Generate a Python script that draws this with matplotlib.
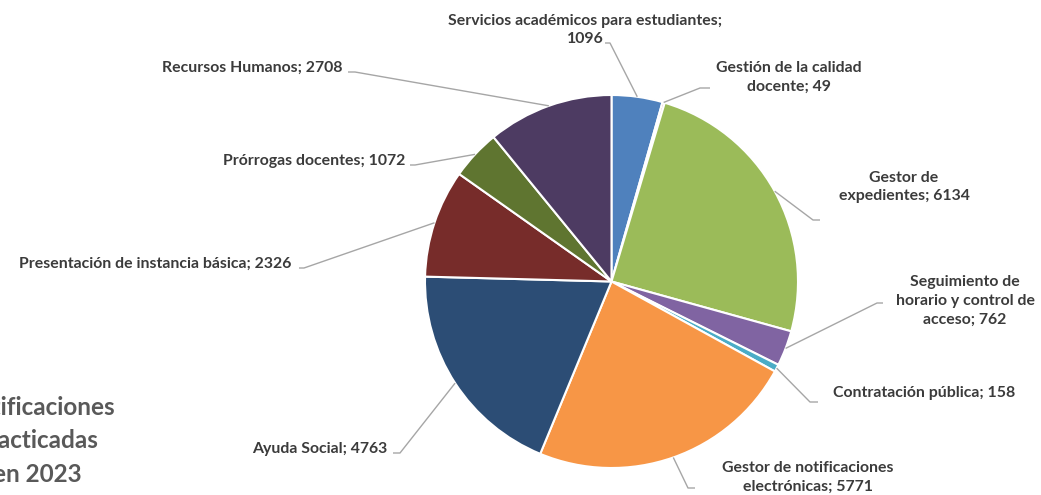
import numpy as np
import matplotlib
matplotlib.use("Agg")
import matplotlib.pyplot as plt

# data
names = ["Servicios académicos para estudiantes;\n1096",
         "Gestión de la calidad\ndocente; 49",
         "Gestor de\nexpedientes; 6134",
         "Seguimiento de\nhorario y control de\nacceso; 762",
         "Contratación pública; 158",
         "Gestor de notificaciones\nelectrónicas; 5771",
         "Ayuda Social; 4763",
         "Presentación de instancia básica; 2326",
         "Prórrogas docentes; 1072",
         "Recursos Humanos; 2708"]
values = [1096, 49, 6134, 762, 158, 5771, 4763, 2326, 1072, 2708]
colors = ["#4F81BD", "#C0504D", "#9BBB59", "#8064A2", "#4BACC6",
          "#F79646", "#2C4D75", "#772C2A", "#5F7530", "#4D3B62"]
title = "Notificaciones\npracticadas\nen 2023"

W, H = 1041, 495
cx, cy, R = 611.5, 281.5, 186.5   # pie centre / radius in image pixels

# label centre (x, y) and leader elbow / end, in image pixels (y down)
label_pos = [(585, 30), (789, 77), (904, 187), (965, 301), (924, 393),
             (808, 477), (320, 449), (155, 264), (314, 161), (252, 68)]
leader_pts = [((610, 43), (605, 43)), ((700, 88), (710, 88)),
              ((813, 220), (820, 220)), ((877, 303), (883, 303)),
              ((810, 402), (818, 402)), ((688, 488), (695, 488)),
              ((400, 453), (393, 453)), ((304, 268), (299, 268)),
              ((415, 165), (410, 165)), ((355, 72), (348, 72))]

plt.rcParams['font.family'] = ['Lato', 'DejaVu Sans']

fig = plt.figure(figsize=(W / 100, H / 100), dpi=100)
ax = fig.add_axes([0, 0, 1, 1])

def fy(y):
    return H - y

wedges, _ = ax.pie(values, colors=colors, startangle=90, counterclock=False,
                   center=(cx, fy(cy)), radius=R,
                   wedgeprops=dict(edgecolor="white", linewidth=1.5))
ax.set_xlim(0, W)
ax.set_ylim(0, H)
ax.set_aspect('equal')
ax.axis('off')

total = float(sum(values))
cum = np.cumsum([0] + values[:-1])
for i, name in enumerate(names):
    frac = (cum[i] + values[i] / 2.0) / total
    ang = np.deg2rad(90 - 360 * frac)
    px = cx + R * np.cos(ang)
    py = fy(cy) + R * np.sin(ang)
    (e1x, e1y), (e2x, e2y) = leader_pts[i]
    ax.plot([px, e1x, e2x], [py, fy(e1y), fy(e2y)], color="#a6a6a6", lw=1.0,
            solid_capstyle="butt")
    tx, ty = label_pos[i]
    ax.text(tx, fy(ty), name, ha="center", va="center", multialignment="center",
            fontsize=11.4, fontweight="bold", color="#3b3b3b", linespacing=1.45)

ax.text(37, fy(441), title, ha="center", va="center", multialignment="center",
        fontsize=17.5, fontweight="bold", color="#595959", linespacing=1.55)

fig.savefig("out.png", dpi=100)
